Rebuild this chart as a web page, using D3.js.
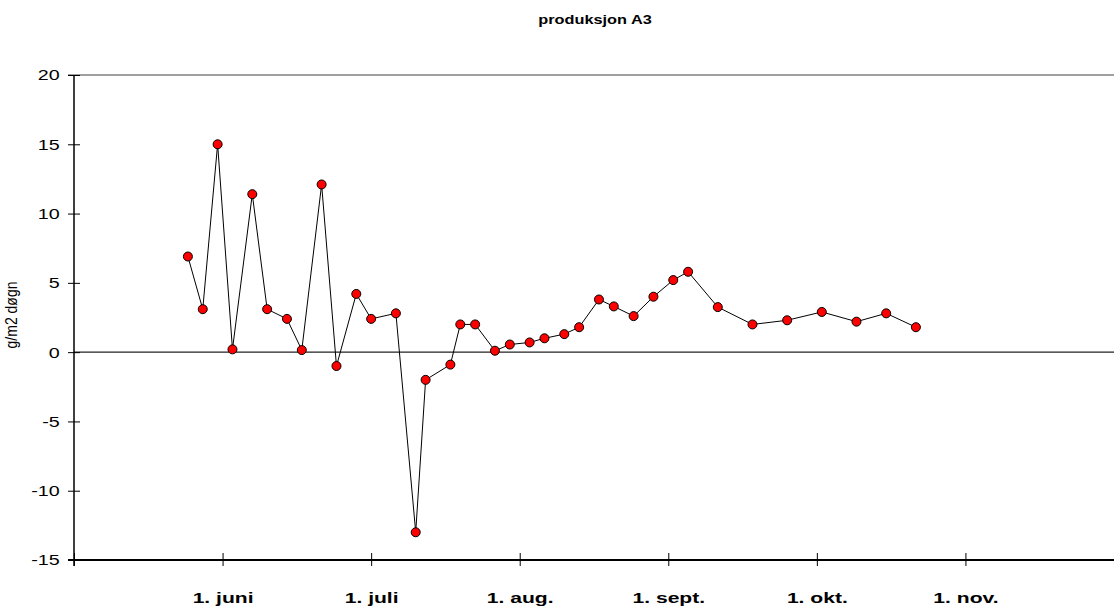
<!DOCTYPE html>
<html>
<head>
<meta charset="utf-8">
<script src="https://cdn.jsdelivr.net/npm/d3@7"></script>
<style>
  html, body { margin: 0; padding: 0; background: #fff; }
  svg { display: block; font-family: Arial, "Liberation Sans", sans-serif; }
</style>
</head>
<body>
<svg id="chart" width="1114" height="615"></svg>
<script>
// ---- data (day of year, g/m2 døgn) ----
const days = [145,148,151,154,158,161,165,168,172,175,179,182,187,191,193,198,200,203,207,210,214,217,221,224,228,231,235,239,243,246,252,259,266,273,280,286,292];
const values = [6.9,3.1,15.0,0.2,11.4,3.1,2.4,0.15,12.1,-1.0,4.2,2.4,2.8,-13.0,-2.0,-0.9,2.0,2.0,0.1,0.55,0.7,1.0,1.3,1.8,3.8,3.3,2.6,4.0,5.2,5.8,3.25,2.0,2.3,2.9,2.2,2.8,1.8];
const xTickValues = [122,152,182,212,242,272,302,332];
const xTickLabels = ["", "1. juni", "1. juli", "1. aug.", "1. sept.", "1. okt.", "1. nov.", ""];
const yTickValues = [-15,-10,-5,0,5,10,15,20];
const title = "produksjon A3";
const yTitle = "g/m2 døgn";

(function () {
const svg = d3.select("#chart");
const pL = 74, pR = 1114, pT = 75, pB = 560;
const SX = 1.36;

const x = d3.scaleLinear().domain([122, 332]).range([pL, pR]);
const y = d3.scaleLinear().domain([-15, 20]).range([pB, pT]);

// top gridline (at 20)
svg.append("line")
  .attr("x1", pL - 6).attr("x2", pR)
  .attr("y1", y(20)).attr("y2", y(20))
  .attr("stroke", "#808080").attr("stroke-width", 1.5);

// zero line
svg.append("line")
  .attr("x1", pL).attr("x2", pR)
  .attr("y1", y(0)).attr("y2", y(0))
  .attr("stroke", "#222").attr("stroke-width", 1.2);

// y axis
const yAxis = svg.append("g")
  .attr("transform", `translate(${pL},0)`)
  .call(d3.axisLeft(y).tickValues(yTickValues).tickSize(6).tickFormat(d => String(d)));
yAxis.select(".domain").remove();
yAxis.selectAll(".tick line").attr("x1", -6).attr("x2", 6).attr("stroke", "#000");
yAxis.selectAll(".tick text")
  .attr("x", -10.5).attr("dy", "0.34em")
  .attr("font-size", "14.5px").attr("fill", "#000")
  .attr("font-family", "Arial, 'Liberation Sans', sans-serif")
  .attr("transform", `scale(${SX},1)`);
svg.append("line")
  .attr("x1", pL).attr("x2", pL)
  .attr("y1", pT).attr("y2", pB + 6)
  .attr("stroke", "#000").attr("stroke-width", 1.5);

// x axis
const xAxis = svg.append("g")
  .attr("transform", `translate(0,${pB})`)
  .call(d3.axisBottom(x).tickValues(xTickValues).tickSize(6)
    .tickFormat((d, i) => xTickLabels[i]));
xAxis.select(".domain").remove();
xAxis.selectAll(".tick line").attr("y1", -7).attr("y2", 6).attr("stroke", "#000");
xAxis.selectAll(".tick").filter((d, i) => i === xTickValues.length - 1).select("line").remove();
xAxis.selectAll(".tick text")
  .attr("y", 43).attr("dy", null)
  .attr("font-size", "15.5px").attr("font-weight", "bold").attr("fill", "#000")
  .attr("font-family", "Arial, 'Liberation Sans', sans-serif")
  .attr("transform", `scale(${SX},1)`);
svg.append("line")
  .attr("x1", pL - 6).attr("x2", pR)
  .attr("y1", pB).attr("y2", pB)
  .attr("stroke", "#000").attr("stroke-width", 1.8);

// title
svg.append("text")
  .attr("transform", `translate(595,24) scale(${SX},1)`)
  .attr("text-anchor", "middle")
  .attr("font-size", "12px").attr("font-weight", "bold")
  .text(title);

// y title
svg.append("text")
  .attr("transform", `translate(17,315) scale(1.2,1) rotate(-90)`)
  .attr("text-anchor", "middle")
  .attr("font-size", "14px")
  .text(yTitle);

// line + markers
const data = days.map((d, i) => ({ d, v: values[i] }));
svg.append("path")
  .datum(data)
  .attr("fill", "none").attr("stroke", "#000").attr("stroke-width", 1)
  .attr("d", d3.line().x(p => x(p.d)).y(p => y(p.v)));

svg.append("g").selectAll("circle")
  .data(data).join("circle")
  .attr("cx", p => x(p.d)).attr("cy", p => y(p.v))
  .attr("r", 4.5)
  .attr("fill", "#ff0000").attr("stroke", "#000").attr("stroke-width", 1);
})();
</script>
</body>
</html>
